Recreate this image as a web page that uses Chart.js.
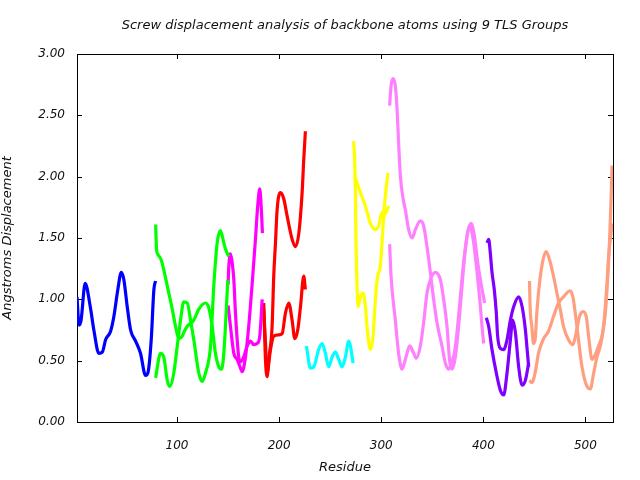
<!DOCTYPE html>
<html>
<head>
<meta charset="utf-8">
<script src="https://cdn.jsdelivr.net/npm/chart.js@4"></script>
<style>
    body { margin: 0; background: #fff; }
    #wrap { width: 640px; height: 480px; }
</style>
</head>
<body>
<div id="wrap"><canvas id="screwChart" width="640" height="480"></canvas></div>
<script>
// residue numbers and displacement values
const blueRes = [2, 4, 6, 10, 15, 18.5, 23.4, 26.8, 30, 34.9, 38.1, 42, 45.4, 47.9, 51.2, 54.5, 59.4, 64.2, 69.1, 71.4, 74.7, 77.3, 78.9];
const blueVal = [1.02, 0.79, 0.83, 1.13, 0.94, 0.75, 0.56, 0.57, 0.67, 0.74, 0.86, 1.08, 1.22, 1.16, 0.94, 0.75, 0.66, 0.56, 0.38, 0.40, 0.67, 1.08, 1.15];

const greenRes1 = [79, 80, 81, 84.5, 87, 90.4, 95.3, 98.5, 101.7, 105.1, 106.6, 110, 116.4, 121.3, 127.9, 131.1, 134.4, 137.6, 140.9, 143.5, 145.8, 148.4, 149.7];
const greenVal1 = [1.61, 1.40, 1.37, 1.32, 1.24, 1.11, 0.92, 0.78, 0.68, 0.70, 0.73, 0.78, 0.83, 0.92, 0.97, 0.93, 0.78, 0.56, 0.45, 0.43, 0.56, 0.94, 1.16];
const greenRes2 = [79, 83.8, 87, 90.4, 93, 96.8, 100.2, 103.4, 106.6, 110, 113.2, 116.4, 121.3, 124.6, 127.9, 132.8, 136, 139.3, 142.5, 145.8, 147.4, 150.7];
const greenVal2 = [0.36, 0.56, 0.53, 0.34, 0.29, 0.40, 0.62, 0.83, 0.98, 0.97, 0.83, 0.67, 0.40, 0.33, 0.40, 0.62, 1.11, 1.46, 1.56, 1.46, 1.41, 1.35];

const magentaRes1 = [150, 150.7, 152.3, 154, 155.6, 157.2, 158.9, 160.4, 162.1, 165.3, 168.7, 171.9, 175.1, 178.5, 181, 183.4];
const magentaVal1 = [1.12, 1.27, 1.37, 1.30, 1.16, 0.89, 0.67, 0.53, 0.49, 0.53, 0.62, 0.66, 0.63, 0.64, 0.70, 1.00];
const magentaRes2 = [150, 152.3, 155.6, 158.9, 162.1, 163.8, 167, 170.2, 173.6, 176.8, 179, 181, 182.4, 183.6];
const magentaVal2 = [0.95, 0.78, 0.56, 0.51, 0.44, 0.41, 0.53, 0.78, 1.13, 1.49, 1.76, 1.90, 1.76, 1.54];

const redRes1 = [184.9, 186.6, 188.2, 189.8, 193.1, 194.7, 196.4, 198, 201.3, 204.5, 207.8, 212.7, 216, 219.3, 222.5, 224.1, 225.7];
const redVal1 = [0.97, 0.51, 0.37, 0.51, 0.78, 1.19, 1.46, 1.73, 1.87, 1.82, 1.68, 1.49, 1.43, 1.54, 1.87, 2.14, 2.37];
const redRes2 = [184.9, 186.6, 188.2, 191.5, 194.7, 199.6, 202.9, 206.2, 209.4, 212.7, 215.3, 218.2, 220.9, 224.1, 225.7];
const redVal2 = [0.92, 0.65, 0.40, 0.59, 0.70, 0.71, 0.72, 0.89, 0.97, 0.83, 0.68, 0.75, 0.94, 1.19, 1.08];

const cyanRes = [226.7, 230.6, 233.9, 238.7, 242.1, 245.3, 248.5, 251.9, 255.1, 258.3, 261.7, 264.9, 268.2, 269.8, 272.4];
const cyanVal = [0.62, 0.44, 0.45, 0.59, 0.64, 0.56, 0.45, 0.53, 0.57, 0.51, 0.45, 0.53, 0.66, 0.62, 0.48];

const yellowRes1 = [272.9, 273.9, 274.7, 275.3, 276.3, 277.3, 279.6, 282.2, 284.5, 286.7, 289.4, 292, 294.3, 296.5, 299.1, 301.8, 303.1, 305, 306.7];
const yellowVal1 = [2.29, 2.14, 1.87, 1.46, 1.11, 0.94, 1.02, 1.05, 0.94, 0.72, 0.59, 0.70, 1.00, 1.19, 1.27, 1.60, 1.76, 1.92, 2.03];
const yellowRes2 = [273.9, 276.3, 279.6, 284.5, 289.4, 294.3, 297.5, 300.8, 303.1, 307.3];
const yellowVal2 = [2.01, 1.95, 1.87, 1.76, 1.62, 1.57, 1.60, 1.71, 1.69, 1.76];

const pinkRes1 = [308.2, 309.6, 311.6, 313.8, 315.5, 317, 318.7, 321.4, 323.6, 326.8, 330.2, 333.5, 338.3, 341.5, 344.8, 348.1, 351.3, 354.6, 359.5, 362.8, 366, 369.3, 371.6, 374.2, 377.5, 380.7, 384.6, 388, 391.2, 394.5, 397.7, 401.3];
const pinkVal1 = [2.58, 2.74, 2.80, 2.74, 2.55, 2.28, 2.01, 1.82, 1.73, 1.57, 1.50, 1.57, 1.64, 1.60, 1.43, 1.22, 1.00, 0.81, 0.62, 0.48, 0.43, 0.50, 0.56, 0.73, 1.02, 1.30, 1.54, 1.62, 1.52, 1.30, 1.13, 0.97];
const pinkRes2 = [308.2, 309.6, 313.8, 317, 320.4, 323.6, 327.9, 331.8, 334.4, 338.3, 341.5, 344.8, 348.1, 353, 357.9, 361.1, 364.4, 367, 369.3, 372.6, 375.8, 379.1, 382.4, 386.6, 390, 393.2, 396.5, 398.7, 400.3];
const pinkVal2 = [1.45, 1.19, 0.83, 0.56, 0.43, 0.51, 0.62, 0.56, 0.52, 0.62, 0.81, 1.05, 1.16, 1.22, 1.16, 1.00, 0.78, 0.50, 0.43, 0.53, 0.78, 1.11, 1.41, 1.60, 1.49, 1.27, 1.00, 0.78, 0.64];

const purpleRes1 = [403.6, 405.2, 406.8, 408.5, 410.7, 412.7, 414, 416.6, 419.9, 423.2, 426.5, 429.7, 434.6, 438, 441.2, 442.9, 444.4];
const purpleVal1 = [1.46, 1.49, 1.38, 1.22, 1.08, 0.89, 0.70, 0.60, 0.59, 0.67, 0.83, 0.94, 1.02, 0.94, 0.75, 0.59, 0.45];
const purpleRes2 = [402.9, 405.2, 408.5, 412.7, 416.6, 419.9, 423.2, 426.5, 428.7, 431.4, 434.6, 438, 441.2, 444.4];
const purpleVal2 = [0.85, 0.78, 0.59, 0.40, 0.26, 0.22, 0.40, 0.67, 0.83, 0.73, 0.45, 0.30, 0.34, 0.48];

const salmonRes1 = [445.2, 445.8, 447.5, 449.1, 450.7, 452.4, 455, 458.4, 461.6, 464.9, 468.7, 472.1, 475.3, 478.5, 483.4, 487.7, 491, 494.2, 497.6, 500.8, 503.1, 506.4, 509.7, 512.9, 516.2, 519.5, 521.7, 523.7, 525.1, 526.1];
const salmonVal1 = [1.15, 0.94, 0.78, 0.64, 0.67, 0.89, 1.13, 1.32, 1.39, 1.32, 1.19, 1.05, 0.92, 0.78, 0.67, 0.63, 0.73, 0.86, 0.90, 0.86, 0.70, 0.51, 0.55, 0.62, 0.70, 0.89, 1.16, 1.49, 1.82, 2.09];
const salmonRes2 = [445.2, 447.5, 450.7, 454, 459, 463.8, 468.7, 473.6, 478.5, 485, 487.7, 490, 493.2, 496.6, 501.5, 504.8, 508.1, 511.3, 514.6, 517.8, 521.1, 522.7, 524.4, 526.1];
const salmonVal2 = [0.34, 0.32, 0.40, 0.56, 0.68, 0.74, 0.86, 0.97, 1.02, 1.07, 1.02, 0.89, 0.67, 0.45, 0.29, 0.27, 0.40, 0.53, 0.62, 0.78, 1.13, 1.35, 1.49, 1.62];

const xTicks = [100, 200, 300, 400, 500];
const yTicks = [0, 0.5, 1, 1.5, 2, 2.5, 3];
const chartTitle = 'Screw displacement analysis of backbone atoms using 9 TLS Groups';

function toPoints(res, val) {
    return res.map((r, i) => ({ x: r, y: val[i] }));
}

function makeLine(res, val, color) {
    return {
        data: toPoints(res, val),
        borderColor: color,
        backgroundColor: color,
        borderWidth: 3.2,
        pointRadius: 0,
        fill: false,
        cubicInterpolationMode: 'monotone'
    };
}

// gnuplot style frame with small inward ticks, title centred over the plot
const framePlugin = {
    id: 'frame',
    beforeDatasetsDraw(chart) {
        const { ctx, chartArea: a, scales } = chart;
        ctx.save();
        ctx.strokeStyle = '#000';
        ctx.lineWidth = 1;
        ctx.strokeRect(Math.round(a.left) + 0.5, Math.round(a.top) + 0.5, Math.round(a.right - a.left), Math.round(a.bottom - a.top));
        ctx.beginPath();
        xTicks.forEach(v => {
            const px = Math.round(scales.x.getPixelForValue(v)) + 0.5;
            ctx.moveTo(px, a.bottom); ctx.lineTo(px, a.bottom - 5);
            ctx.moveTo(px, a.top); ctx.lineTo(px, a.top + 5);
        });
        yTicks.forEach(v => {
            const py = Math.round(scales.y.getPixelForValue(v)) + 0.5;
            ctx.moveTo(a.left, py); ctx.lineTo(a.left + 5, py);
            ctx.moveTo(a.right, py); ctx.lineTo(a.right - 5, py);
        });
        ctx.stroke();

        ctx.fillStyle = '#111';
        ctx.font = 'italic 13px "DejaVu Sans", sans-serif';
        ctx.textAlign = 'center';
        ctx.textBaseline = 'middle';
        ctx.fillText(chartTitle, (a.left + a.right) / 2, 26);
        ctx.restore();
    }
};

Chart.defaults.font.family = '"DejaVu Sans", sans-serif';
Chart.defaults.font.style = 'italic';
Chart.defaults.font.size = 12;
Chart.defaults.color = '#111';

new Chart(document.getElementById('screwChart'), {
    type: 'line',
    data: {
        datasets: [
            makeLine(blueRes, blueVal, '#0000ff'),
            makeLine(greenRes1, greenVal1, '#00ff00'),
            makeLine(greenRes2, greenVal2, '#00ff00'),
            makeLine(magentaRes1, magentaVal1, '#ff00ff'),
            makeLine(magentaRes2, magentaVal2, '#ff00ff'),
            makeLine(redRes1, redVal1, '#ff0000'),
            makeLine(redRes2, redVal2, '#ff0000'),
            makeLine(cyanRes, cyanVal, '#00ffff'),
            makeLine(yellowRes1, yellowVal1, '#ffff00'),
            makeLine(yellowRes2, yellowVal2, '#ffff00'),
            makeLine(pinkRes1, pinkVal1, '#ff80ff'),
            makeLine(pinkRes2, pinkVal2, '#ff80ff'),
            makeLine(purpleRes1, purpleVal1, '#8000ff'),
            makeLine(purpleRes2, purpleVal2, '#8000ff'),
            makeLine(salmonRes1, salmonVal1, '#ff9f80'),
            makeLine(salmonRes2, salmonVal2, '#ff9f80')
        ]
    },
    options: {
        responsive: false,
        animation: false,
        layout: { padding: { top: 54, right: 27, bottom: 0, left: 0 } },
        plugins: {
            legend: { display: false },
            tooltip: { enabled: false },
            title: { display: false }
        },
        scales: {
            x: {
                type: 'linear',
                min: 2,
                max: 527,
                grid: { display: false, drawTicks: false },
                border: { display: false },
                afterBuildTicks: scale => { scale.ticks = xTicks.map(v => ({ value: v })); },
                afterFit: scale => { scale.height = 58; },
                ticks: { padding: 17, maxRotation: 0 },
                title: { display: true, text: 'Residue', font: { size: 13 }, padding: { top: 0, bottom: 5 } }
            },
            y: {
                min: 0,
                max: 3,
                grid: { display: false, drawTicks: false },
                border: { display: false },
                afterBuildTicks: scale => { scale.ticks = yTicks.map(v => ({ value: v })); },
                afterFit: scale => { scale.width = 77; },
                ticks: { padding: 12, callback: v => Number(v).toFixed(2) },
                title: { display: true, text: 'Angstroms Displacement', font: { size: 13 }, padding: { top: 0, bottom: 6 } }
            }
        }
    },
    plugins: [framePlugin]
});
</script>
</body>
</html>
